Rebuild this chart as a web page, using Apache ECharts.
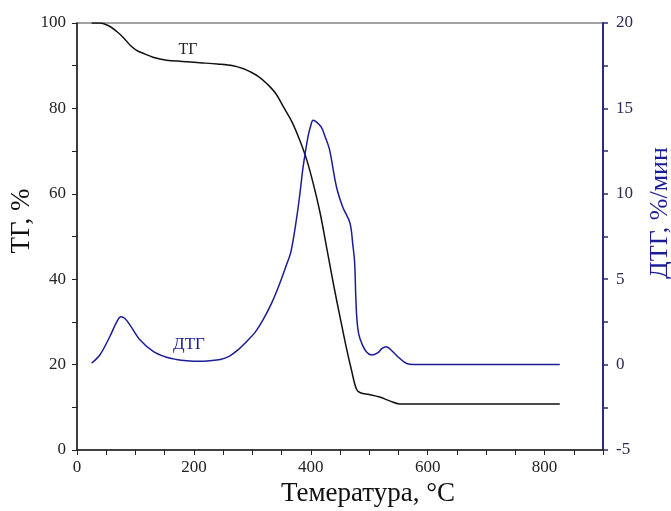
<!DOCTYPE html>
<html>
<head>
<meta charset="utf-8">
<script src="https://cdn.jsdelivr.net/npm/echarts@6/dist/echarts.min.js"></script>
<style>
  html, body { margin: 0; padding: 0; background: #fff; }
  #chart { width: 671px; height: 511px; }
</style>
</head>
<body>
<div id="chart"></div>
<script>
// ТГ, % vs temperature
var tgTemp = [25, 39, 55, 68, 80, 91, 102, 113, 130, 153, 180, 210, 240, 267, 285, 296, 310, 324, 340, 353, 368, 381, 393, 404, 416, 427, 440, 450, 460, 470, 478, 485, 500, 518, 535, 552, 600, 700, 826];
var tgValues = [100, 100, 99.3, 98, 96.5, 94.8, 93.6, 92.9, 92, 91.3, 91, 90.7, 90.4, 90, 89.3, 88.6, 87.5, 85.9, 83.5, 80.4, 76.8, 72.6, 68, 62.5, 55.5, 47.5, 38, 31.2, 24.5, 18.5, 14.3, 13.4, 13, 12.4, 11.5, 10.8, 10.8, 10.8, 10.8];

// ДТГ, %/мин vs temperature
var dtgTemp = [25, 39, 56, 68, 75, 82, 91, 108, 131, 153, 170, 188, 210, 227, 245, 261, 275, 290, 305, 318, 333, 347, 358, 366, 375, 381, 387, 395, 400, 404, 410, 418, 425, 432, 444, 455, 467, 472, 475, 477, 479, 482, 487, 495, 504, 515, 522, 529, 536, 549, 560, 569, 600, 700, 826];
var dtgValues = [0.08, 0.56, 1.63, 2.5, 2.8, 2.7, 2.3, 1.44, 0.76, 0.43, 0.3, 0.23, 0.2, 0.23, 0.3, 0.5, 0.85, 1.34, 1.9, 2.6, 3.6, 4.76, 5.8, 6.6, 8.4, 9.9, 11.6, 13.3, 14.0, 14.3, 14.2, 13.9, 13.3, 12.6, 10.4, 9.2, 8.3, 7.0, 6.0, 4.0, 2.6, 1.8, 1.26, 0.75, 0.56, 0.7, 0.95, 1.05, 0.9, 0.46, 0.15, 0.02, 0, 0, 0];

var xTicks = [0, 200, 400, 600, 800];
var tgTicks = [0, 20, 40, 60, 80, 100];
var dtgTicks = [-5, 0, 5, 10, 15, 20];

function pairs(xs, ys) {
  return xs.map(function (x, i) { return [x, ys[i]]; });
}

var FONT = '"Liberation Serif", "DejaVu Serif", serif';
var NAVY = '#1c1c96';
var NAVY_AXIS = '#2b2b7a';

var chart = echarts.init(document.getElementById('chart'), null, { renderer: 'canvas' });

chart.setOption({
  animation: false,
  backgroundColor: '#fff',
  grid: {
    left: 77, right: 68, top: 23, bottom: 61,
    show: true, borderColor: '#444', borderWidth: 1.2
  },
  xAxis: {
    type: 'value',
    min: 0, max: 900, interval: 50,
    splitLine: { show: false },
    axisLine: { lineStyle: { color: '#222', width: 1.5 } },
    axisTick: { length: 5, lineStyle: { color: '#222', width: 1 } },
    axisLabel: {
      color: '#222', fontFamily: FONT, fontSize: 17, margin: 9,
      formatter: function (v) { return xTicks.indexOf(v) >= 0 ? String(v) : ''; }
    }
  },
  yAxis: [{
    type: 'value',
    min: 0, max: 100, interval: 10,
    position: 'left',
    splitLine: { show: false },
    axisLine: { show: true, lineStyle: { color: '#222', width: 1.5 } },
    axisTick: { show: true, length: 5, lineStyle: { color: '#222', width: 1 } },
    axisLabel: {
      color: '#222', fontFamily: FONT, fontSize: 17, margin: 11,
      formatter: function (v) { return tgTicks.indexOf(v) >= 0 ? String(v) : ''; }
    }
  }, {
    type: 'value',
    min: -5, max: 20, interval: 2.5,
    position: 'right',
    splitLine: { show: false },
    axisLine: { show: true, lineStyle: { color: NAVY_AXIS, width: 2 } },
    axisTick: { show: true, length: 5, lineStyle: { color: NAVY_AXIS, width: 1.5 } },
    axisLabel: {
      color: '#2a2a55', fontFamily: FONT, fontSize: 17, margin: 13,
      formatter: function (v) { return dtgTicks.indexOf(v) >= 0 ? String(v) : ''; }
    }
  }],
  graphic: [{
    type: 'text', x: 368, y: 494,
    style: { text: 'Темература, °C', fill: '#111', font: '27px ' + FONT, textAlign: 'center', textVerticalAlign: 'middle' }
  }, {
    type: 'text', x: 22, y: 221, rotation: Math.PI / 2,
    style: { text: 'ТГ, %', fill: '#111', font: '27px ' + FONT, textAlign: 'center', textVerticalAlign: 'middle' }
  }, {
    type: 'text', x: 660, y: 213, rotation: Math.PI / 2,
    style: { text: 'ДТГ, %/мин', fill: NAVY, font: '26px ' + FONT, textAlign: 'center', textVerticalAlign: 'middle' }
  }, {
    type: 'text', x: 188, y: 50,
    style: { text: 'ТГ', fill: '#222', font: '16px ' + FONT, textAlign: 'center', textVerticalAlign: 'middle' }
  }, {
    type: 'text', x: 189, y: 345,
    style: { text: 'ДТГ', fill: NAVY, font: '17px ' + FONT, textAlign: 'center', textVerticalAlign: 'middle' }
  }],
  series: [{
    name: 'ТГ',
    type: 'line',
    yAxisIndex: 0,
    data: pairs(tgTemp, tgValues),
    showSymbol: false,
    smooth: 0.35,
    lineStyle: { color: '#111', width: 1.5 }
  }, {
    name: 'ДТГ',
    type: 'line',
    yAxisIndex: 1,
    data: pairs(dtgTemp, dtgValues),
    showSymbol: false,
    smooth: 0.35,
    lineStyle: { color: NAVY, width: 1.5 }
  }]
});
</script>
</body>
</html>
